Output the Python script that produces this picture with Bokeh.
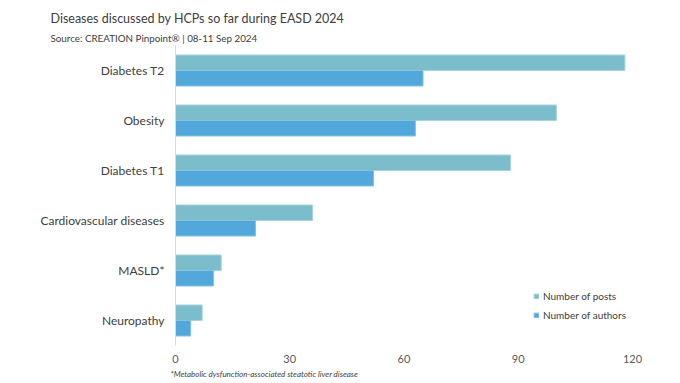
from bokeh.plotting import figure
from bokeh.models import FactorRange, Range1d, Legend, LegendItem, FixedTicker, Title
from bokeh.transform import dodge
from bokeh.embed import file_html
from bokeh.resources import INLINE
from bokeh.models import ColumnDataSource

categories = ["Diabetes T2", "Obesity", "Diabetes T1", "Cardiovascular diseases", "MASLD*", "Neuropathy"]
posts = [118, 100, 88, 36, 12, 7]
authors = [65, 63, 52, 21, 10, 4]
x_ticks = [0, 30, 60, 90, 120]

FONT = "Lato"
POSTS_C = "#7bbdca"
AUTH_C = "#52a8da"

src = ColumnDataSource(dict(cat=categories, posts=posts, authors=authors))

W, H = 672, 383
p = figure(width=W, height=H, output_backend="svg", toolbar_location=None,
           title="Diseases discussed by HCPs so far during EASD 2024",
           y_range=FactorRange(factors=list(reversed(categories)), range_padding=0),
           x_range=Range1d(0, 120),
           min_border_left=175, min_border_right=W - 632,
           min_border_top=45, min_border_bottom=38)
p.outline_line_color = None
p.grid.grid_line_color = None

p.title.text_font = FONT
p.title.text_font_size = "12.5px"
p.title.text_font_style = "normal"
p.title.text_color = "#404040"
p.title.align = "left"
p.title.offset = -125
p.title.standoff = 4

sub = Title(text="Source: CREATION Pinpoint® | 08-11 Sep 2024", align="left",
            offset=-125, text_font=FONT, text_font_size="9.8px", text_font_style="normal",
            text_color="#404040", standoff=4)
p.add_layout(sub, "above")

rp = p.hbar(y=dodge("cat", 0.155, range=p.y_range), right="posts", left=0, height=0.31,
            source=src, fill_color=POSTS_C, line_color="#a6d3dc", line_width=1)
ra = p.hbar(y=dodge("cat", -0.155, range=p.y_range), right="authors", left=0, height=0.31,
            source=src, fill_color=AUTH_C, line_color="#86c2e6", line_width=1)

p.yaxis.axis_line_color = "#d9d9d9"
p.yaxis.axis_line_width = 1
p.yaxis.major_tick_line_color = None
p.yaxis.minor_tick_line_color = None
p.yaxis.major_label_text_font = FONT
p.yaxis.major_label_text_font_size = "12px"
p.yaxis.major_label_text_color = "#404040"
p.yaxis.major_label_standoff = 5

p.xaxis.axis_line_color = None
p.xaxis.major_tick_line_color = None
p.xaxis.minor_tick_line_color = None
p.xaxis.ticker = FixedTicker(ticks=x_ticks)
p.xaxis.major_label_text_font = FONT
p.xaxis.major_label_text_font_size = "11px"
p.xaxis.major_label_text_color = "#595959"
p.xaxis.major_label_standoff = 3

foot = Title(text="*Metabolic dysfunction-associated steatotic liver disease", align="left",
             offset=-5, text_font=FONT, text_font_size="8px", text_font_style="italic",
             text_color="#404040", standoff=2)
p.add_layout(foot, "below")

legend = Legend(items=[LegendItem(label="Number of posts", renderers=[rp]),
                       LegendItem(label="Number of authors", renderers=[ra])],
                location=(358, 23), glyph_width=6, glyph_height=6,
                label_text_font=FONT, label_text_font_size="10px", label_text_color="#404040",
                background_fill_alpha=0, border_line_color=None, spacing=5,
                padding=0, margin=0, label_standoff=4, label_height=14)
p.add_layout(legend, "center")

open("out.html", "w").write(file_html(p, INLINE))
